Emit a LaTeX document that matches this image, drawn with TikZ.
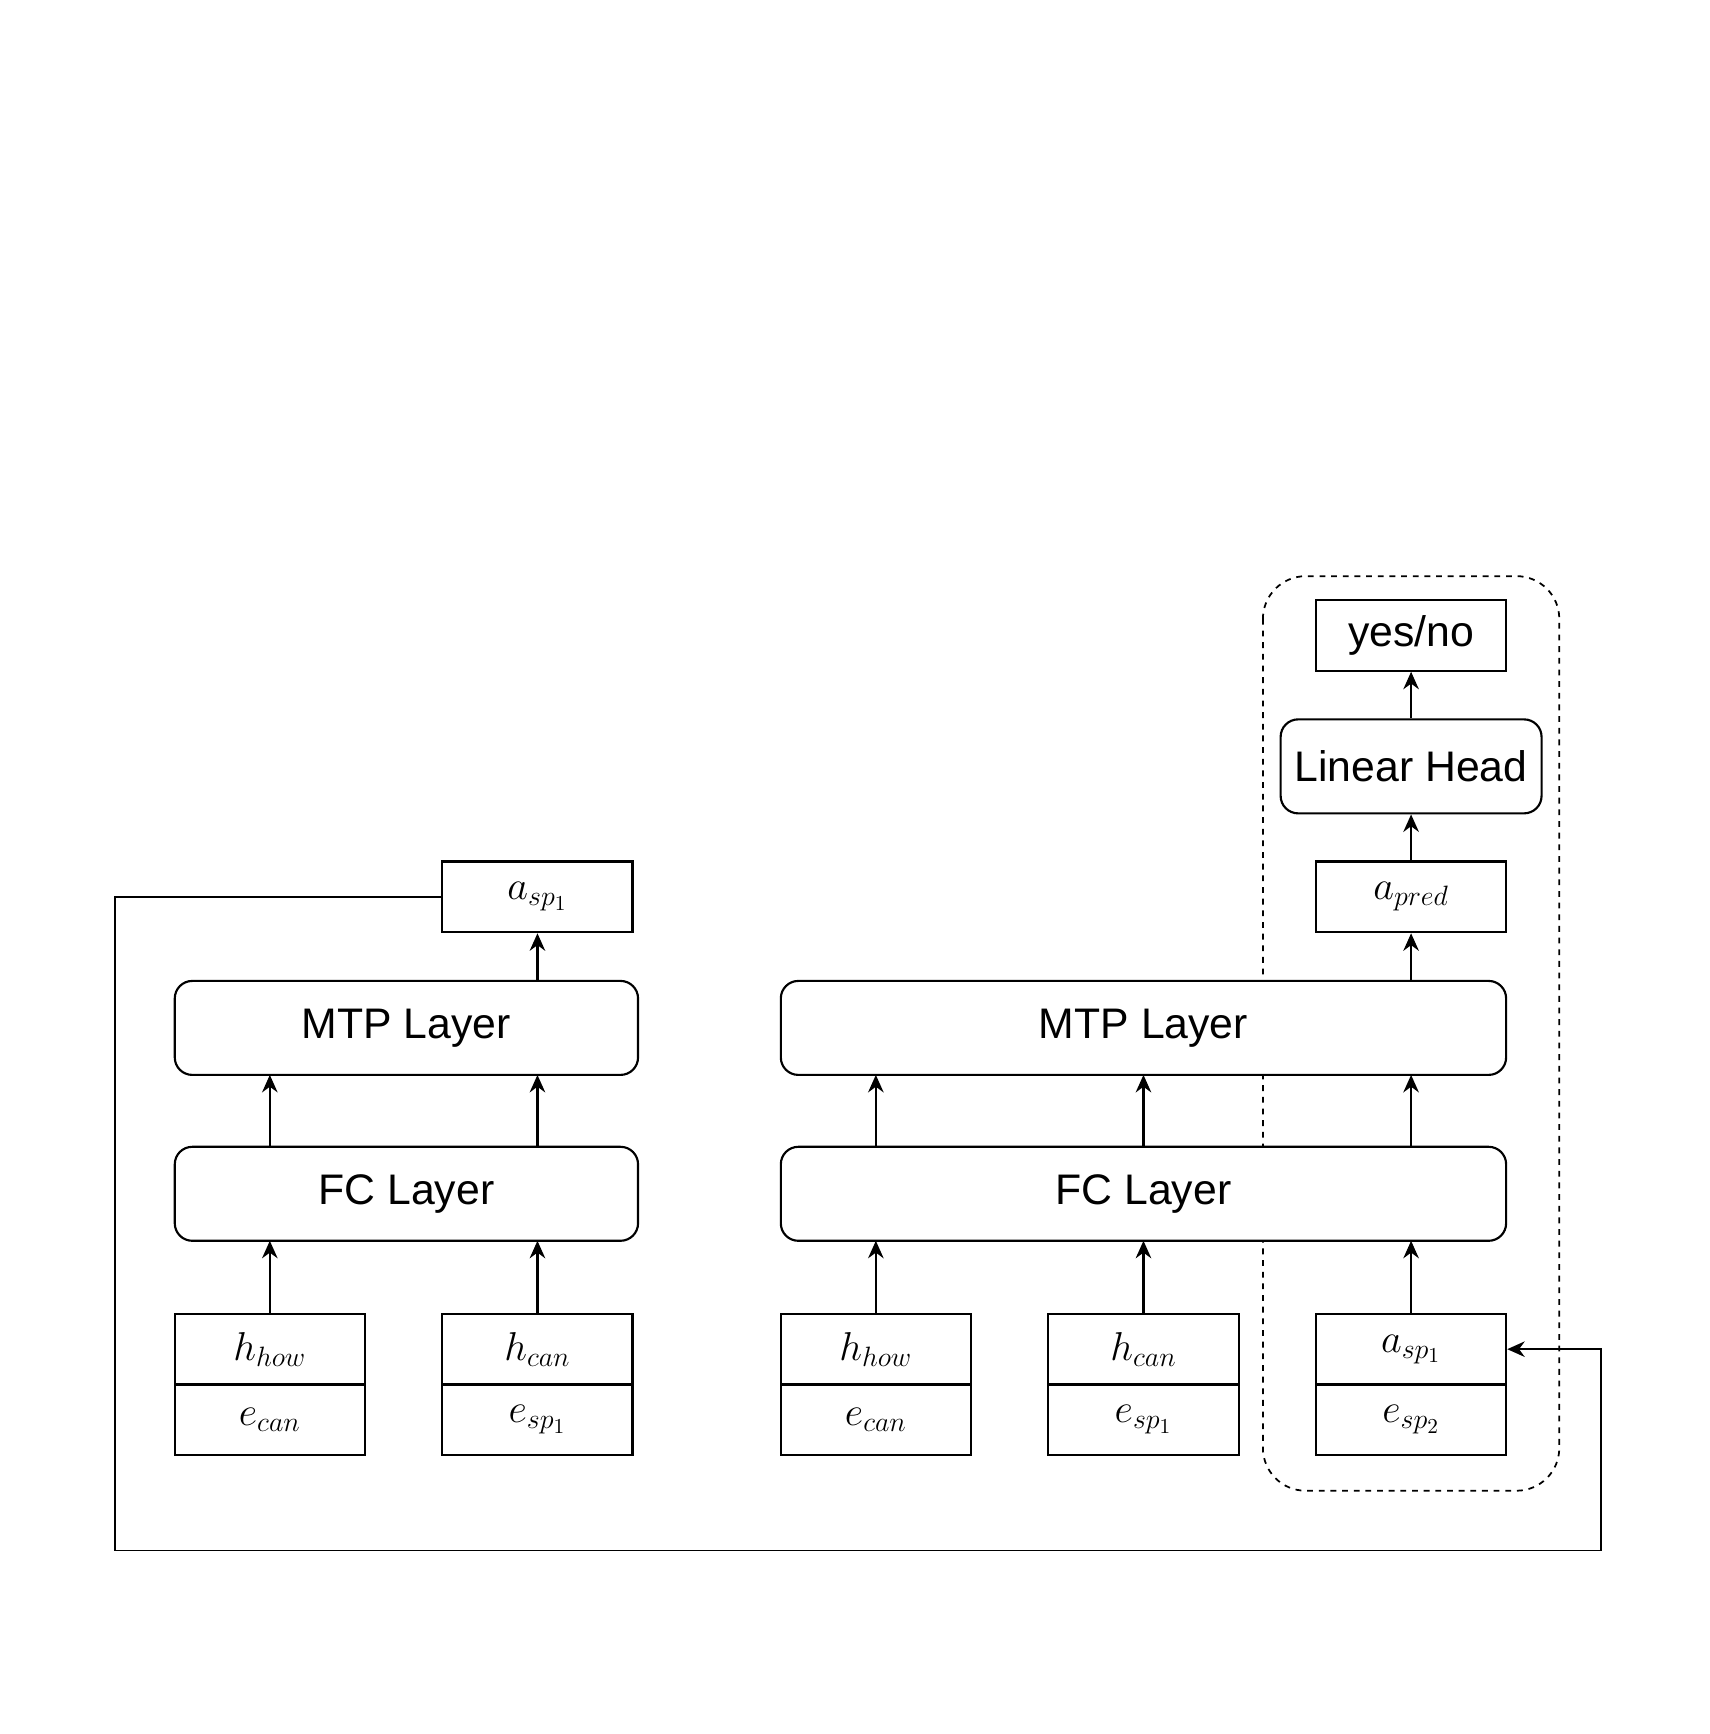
\documentclass[tikz,border=0pt]{standalone}
\usepackage{fontspec}
\setmainfont{Liberation Sans}
\usetikzlibrary{arrows.meta}
\begin{document}
\begin{tikzpicture}[x=0.02cm,y=-0.02cm,line width=1.1pt,
  box/.style={draw,fill=white,minimum width=3.44cm,minimum height=1.28cm,inner sep=0pt,font=\fontsize{22}{24}\selectfont},
  half/.style={draw,fill=white,minimum width=3.44cm,minimum height=1.28cm,inner sep=0pt,font=\fontsize{22}{24}\selectfont},
  layer/.style={draw,fill=white,rounded corners=9pt,minimum height=1.7cm,inner sep=0pt,font=\fontsize{22}{24}\selectfont},
  arr/.style={-{Stealth[length=9pt,width=8pt]}}]
\useasboundingbox (0,0) rectangle (1546,1568);
% dashed group
\draw[dashed,line width=0.9pt,rounded corners=22pt] (1142,521) rectangle (1410,1348);
% left column
\node[box] (la) at (486,811) {$a_{sp_1}$};
\node[layer,minimum width=8.38cm] (lm) at (367.5,929.5) {MTP Layer};
\node[layer,minimum width=8.38cm] (lf) at (367.5,1079.5) {FC Layer};
\node[half] (l1h) at (244,1220) {$h_{how}$};
\node[half] (l1e) at (244,1284) {$e_{can}$};
\node[half] (l2h) at (486,1220) {$h_{can}$};
\node[half] (l2e) at (486,1284) {$e_{sp_1}$};
% right column
\node[layer,minimum width=13.12cm] (rm) at (1034,929.5) {MTP Layer};
\node[layer,minimum width=13.12cm] (rf) at (1034,1079.5) {FC Layer};
\node[half] (r1h) at (792,1220) {$h_{how}$};
\node[half] (r1e) at (792,1284) {$e_{can}$};
\node[half] (r2h) at (1034,1220) {$h_{can}$};
\node[half] (r2e) at (1034,1284) {$e_{sp_1}$};
\node[half] (r3h) at (1276,1220) {$a_{sp_1}$};
\node[half] (r3e) at (1276,1284) {$e_{sp_2}$};
\node[box] (ap) at (1276,811) {$a_{pred}$};
\node[layer,minimum width=4.72cm] (lh) at (1276,693) {Linear Head};
\node[box] (yn) at (1276,574.5) {yes/no};
% arrows left
\draw[arr] (l1h.north) -- (244,1122);
\draw[arr] (l2h.north) -- (486,1122);
\draw[arr] (244,1037) -- (244,972);
\draw[arr] (486,1037) -- (486,972);
\draw[arr] (486,887) -- (la.south);
% arrows right
\draw[arr] (r1h.north) -- (792,1122);
\draw[arr] (r2h.north) -- (1034,1122);
\draw[arr] (r3h.north) -- (1276,1122);
\draw[arr] (792,1037) -- (792,972);
\draw[arr] (1034,1037) -- (1034,972);
\draw[arr] (1276,1037) -- (1276,972);
\draw[arr] (1276,887) -- (ap.south);
\draw[arr] (ap.north) -- (lh.south);
\draw[arr] (lh.north) -- (yn.south);
% feedback
\draw[arr,line width=0.9pt] (la.west) -- (104,811) -- (104,1402) -- (1448,1402) -- (1448,1220) -- (r3h.east);
\end{tikzpicture}
\end{document}
